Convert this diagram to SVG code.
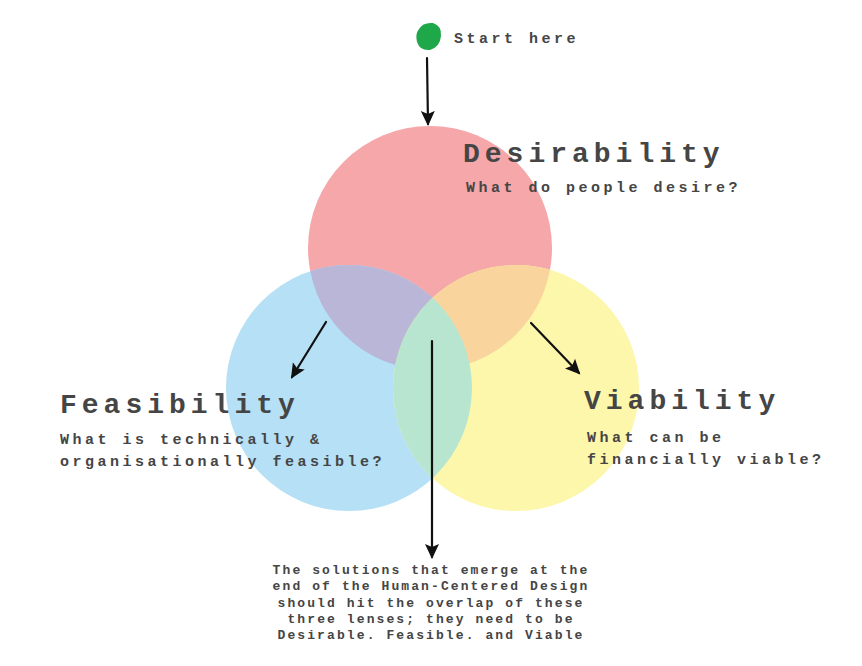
<svg xmlns="http://www.w3.org/2000/svg" width="862" height="666" viewBox="0 0 862 666">
<style>
.t{font-family:"Liberation Mono","DejaVu Sans Mono",monospace;font-weight:bold;fill:#454545}
.h{font-size:28px;letter-spacing:5px}
.s{font-size:15px;letter-spacing:3.5px}
.b{font-size:13px;letter-spacing:2.1px;text-anchor:middle}
.c{stroke:#111;stroke-width:2.2;fill:none;stroke-linecap:round}
</style>
<defs>
<clipPath id="cr"><circle cx="430" cy="248" r="122"/></clipPath>
<clipPath id="cb"><circle cx="349" cy="388" r="123"/></clipPath>
<marker id="ah" viewBox="0 0 16 16" refX="13" refY="8" markerWidth="16" markerHeight="16" markerUnits="userSpaceOnUse" orient="auto">
<path d="M0,1 L15,8 L0,15 L3,8 Z" fill="#111"/>
</marker>
</defs>
<g id="circles">
<circle id="desirability-circle" cx="430" cy="248" r="122" fill="#f5a7aa"/>
<circle id="feasibility-circle" cx="349" cy="388" r="123" fill="#b5e0f5"/>
<circle id="viability-circle" cx="516" cy="388" r="123" fill="#fdf7ab"/>
<circle cx="349" cy="388" r="123" fill="#bab6d8" clip-path="url(#cr)"/>
<circle cx="516" cy="388" r="123" fill="#f9d59d" clip-path="url(#cr)"/>
<circle cx="516" cy="388" r="123" fill="#b8e5d0" clip-path="url(#cb)"/>
</g>
<g id="start">
<path d="M419,29 Q423,22 433,23 Q442,26 441,36 Q440,47 430,50 Q420,51 417,42 Q415,34 419,29 Z" fill="#1fa84a"/>
<text class="t s" x="454" y="43">Start here</text>
</g>
<g id="desirability">
<text class="t h" x="463" y="162">Desirability</text>
<text class="t s" x="466" y="192">What do people desire?</text>
</g>
<g id="feasibility">
<text class="t h" x="60" y="413">Feasibility</text>
<text class="t s" x="60" y="444">What is technically &amp;</text>
<text class="t s" x="60" y="466">organisationally feasible?</text>
</g>
<g id="viability">
<text class="t h" x="584" y="409">Viability</text>
<text class="t s" x="587" y="442">What can be</text>
<text class="t s" x="587" y="464">financially viable?</text>
</g>
<g id="summary">
<text class="t b" x="431" y="574">The solutions that emerge at the</text>
<text class="t b" x="431" y="590">end of the Human-Centered Design</text>
<text class="t b" x="431" y="607">should hit the overlap of these</text>
<text class="t b" x="431" y="623">three lenses; they need to be</text>
<text class="t b" x="431" y="639">Desirable. Feasible. and Viable</text>
</g>
<g id="connectors">
<line class="c" x1="427" y1="58" x2="428" y2="124" marker-end="url(#ah)"/>
<line class="c" x1="326" y1="322" x2="292" y2="377" marker-end="url(#ah)"/>
<line class="c" x1="531" y1="323" x2="579" y2="373" marker-end="url(#ah)"/>
<line class="c" x1="432" y1="341" x2="432" y2="557" marker-end="url(#ah)"/>
</g>
</svg>
